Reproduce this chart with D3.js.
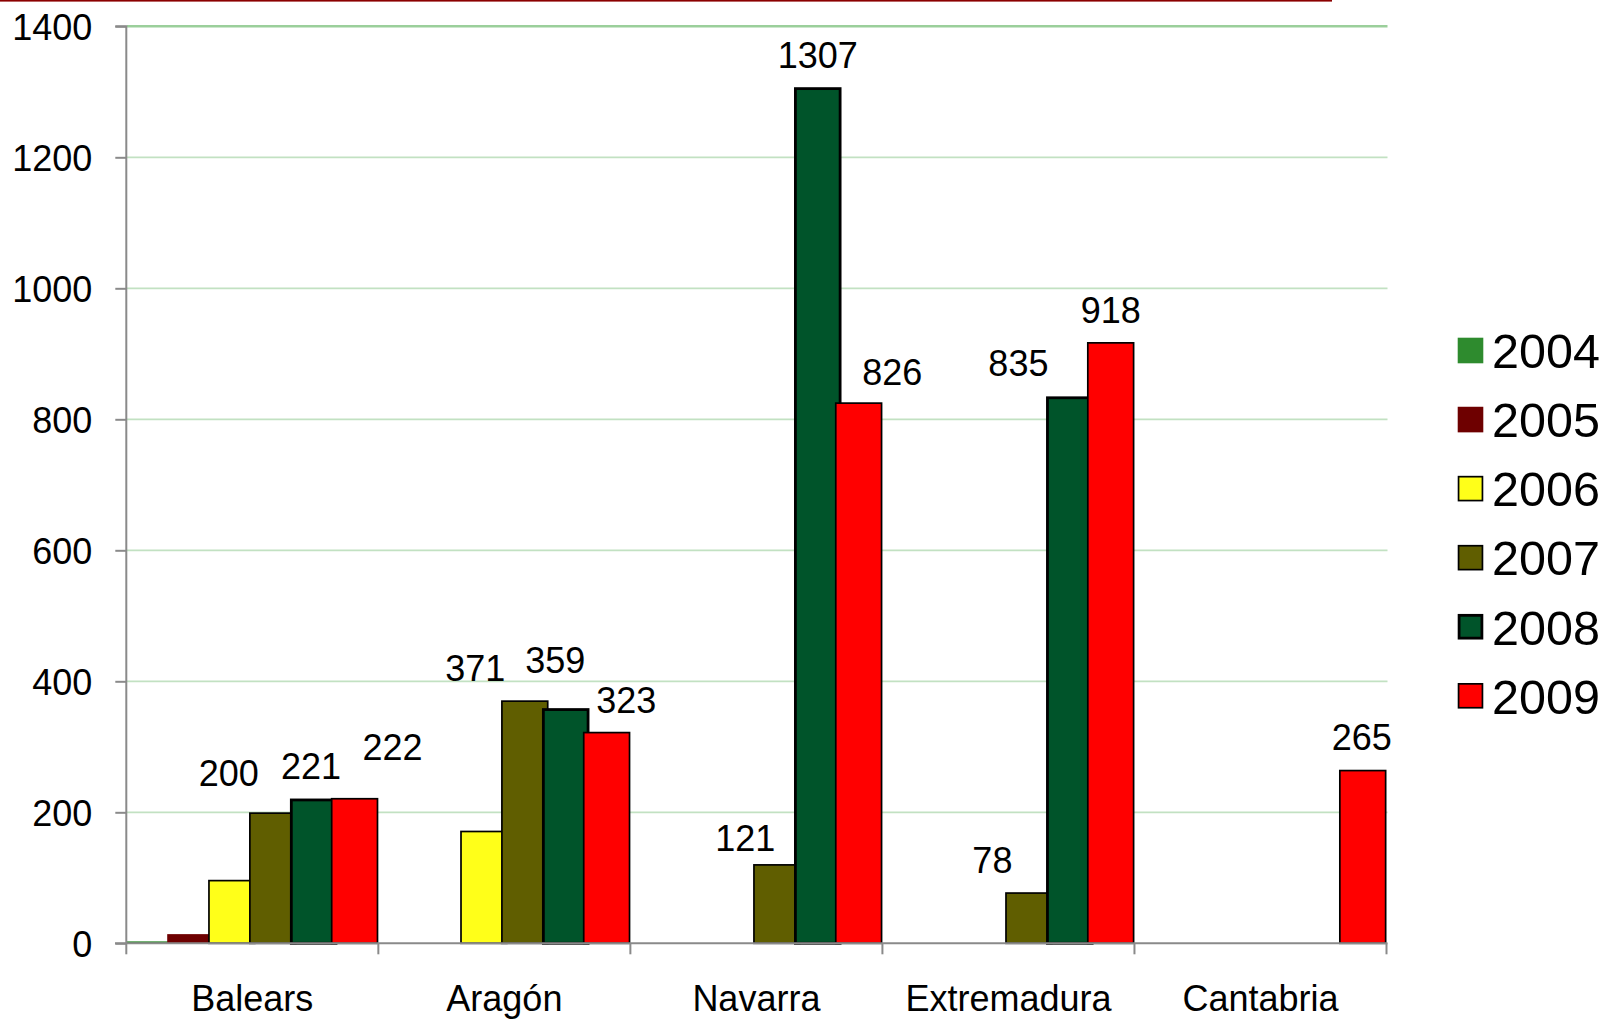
<!DOCTYPE html>
<html>
<head>
<meta charset="utf-8">
<script src="https://cdn.jsdelivr.net/npm/d3@7"></script>
<style>
  html, body { margin: 0; padding: 0; background: #fff; }
  svg { display: block; }
  text { font-family: "Liberation Sans", Arial, sans-serif; fill: #000; }
</style>
</head>
<body>
<svg id="chart" width="1612" height="1019"></svg>
<script>
// ---- data ----
const categories = ["Balears", "Aragón", "Navarra", "Extremadura", "Cantabria"];
const years = ["2004", "2005", "2006", "2007", "2008", "2009"];
const v2004 = [3, 0, 0, 0, 0];
const v2005 = [14, 0, 0, 0, 0];
const v2006 = [97, 172, 0, 0, 0];
const v2007 = [200, 371, 121, 78, 0];
const v2008 = [221, 359, 1307, 835, 0];
const v2009 = [222, 323, 826, 918, 265];
const yTicks = [0, 200, 400, 600, 800, 1000, 1200, 1400];
const labelledYears = ["2007", "2008", "2009"];

// ---- styles / layout ----
const colors = ["#2e8b2e", "#6e0000", "#ffff19", "#605e00", "#00542a", "#ff0000"];
const strokeW = [0, 0, 1.7, 1.7, 2.8, 1.7];
// manual data-label placement (dx from bar centre, dy from bar top to text centre)
const labelNudge = {
  "2007|Balears": [-44, -39.4], "2008|Balears": [-2.6, -32.4], "2009|Balears": [38, -50.7],
  "2007|Aragón": [-49.5, -32.5], "2008|Aragón": [-10.4, -47.9], "2009|Aragón": [19.7, -32],
  "2007|Navarra": [-31.5, -26], "2008|Navarra": [0, -32.6], "2009|Navarra": [33.7, -29.7],
  "2007|Extremadura": [-36.5, -32.5], "2008|Extremadura": [-51.4, -32.8], "2009|Extremadura": [0, -32],
  "2009|Cantabria": [-1, -32.8]
};

const series = [v2004, v2005, v2006, v2007, v2008, v2009];
const svg = d3.select("#chart");

const x = d3.scaleBand().domain(categories).range([126.3, 1386.5]).padding(0);
const y = d3.scaleLinear().domain([0, 1400]).range([943.3, 26.3]);

const overlap = 0.139;
const bw = x.bandwidth();
const barW = bw / (1 + (years.length - 1) * (1 - overlap));
const step = barW * (1 - overlap);

// top decorative line
svg.append("rect").attr("x", 0).attr("y", 0).attr("width", 1332).attr("height", 1.6).attr("fill", "#8b0000");

// gridlines
svg.append("g").selectAll("line").data(yTicks.filter(t => t > 0)).join("line")
  .attr("x1", 127).attr("x2", 1387.5)
  .attr("y1", d => y(d)).attr("y2", d => y(d))
  .attr("stroke", d => d === 1400 ? "#9bcf9b" : "#c2e1c2")
  .attr("stroke-width", d => d === 1400 ? 2.6 : 1.7);

// bars
const barsG = svg.append("g");
categories.forEach((cat, ci) => {
  series.forEach((vals, si) => {
    const v = vals[ci];
    if (!v) return;
    const bx = x(cat) + si * step;
    const sw = strokeW[si];
    barsG.append("rect")
      .attr("x", bx + sw / 2)
      .attr("y", y(v) + sw / 2)
      .attr("width", barW - sw)
      .attr("height", Math.max(0, y(0) - y(v) - sw / 2))
      .attr("fill", colors[si])
      .attr("stroke", sw ? "#000" : "none")
      .attr("stroke-width", sw);
  });
});

// axes
const axisColor = "#8a8a8a";
const yAxis = d3.axisLeft(y).tickValues(yTicks).tickSize(11).tickPadding(23).tickFormat(d3.format("d"));
const gy = svg.append("g").attr("transform", "translate(126.3,0)").call(yAxis);
gy.select(".domain").attr("stroke", axisColor).attr("stroke-width", 2).attr("d", "M-11,26.3H0V943.3");
gy.selectAll(".tick line").attr("stroke", axisColor).attr("stroke-width", 2);
gy.selectAll(".tick text").attr("font-size", 36).attr("font-family", "Liberation Sans, Arial, sans-serif").attr("fill", "#000").attr("dy", "0.36em");

// x axis line and boundary ticks
const gx = svg.append("g");
gx.append("line").attr("x1", 115).attr("x2", 1387.5).attr("y1", y(0)).attr("y2", y(0))
  .attr("stroke", axisColor).attr("stroke-width", 2);
const bounds = categories.map(c => x(c)).concat([x(categories[categories.length - 1]) + bw]);
gx.selectAll("line.tk").data(bounds).join("line").attr("class", "tk")
  .attr("x1", d => d).attr("x2", d => d).attr("y1", y(0)).attr("y2", y(0) + 11)
  .attr("stroke", axisColor).attr("stroke-width", 2);
gx.selectAll("text").data(categories).join("text")
  .attr("x", d => x(d) + bw / 2).attr("y", 1011)
  .attr("text-anchor", "middle").attr("font-size", 36).text(d => d);

// data labels
const labG = svg.append("g");
categories.forEach((cat, ci) => {
  series.forEach((vals, si) => {
    const v = vals[ci];
    if (!v || !labelledYears.includes(years[si])) return;
    const nudge = labelNudge[years[si] + "|" + cat] || [0, -32.5];
    const cx = x(cat) + si * step + barW / 2 + nudge[0];
    const cy = y(v) + nudge[1];
    labG.append("text").attr("x", cx).attr("y", cy + 12.9)
      .attr("text-anchor", "middle").attr("font-size", 36).text(v);
  });
});

// legend
const leg = svg.append("g");
years.forEach((yr, i) => {
  const cy = 350.5 + i * 69.06;
  const sw = strokeW[i];
  leg.append("rect")
    .attr("x", 1457.7 + sw / 2).attr("y", cy - 12.8 + sw / 2)
    .attr("width", 25.6 - sw).attr("height", 25.6 - sw)
    .attr("fill", colors[i]).attr("stroke", sw ? "#000" : "none").attr("stroke-width", sw);
  leg.append("text").attr("x", 1492).attr("y", cy + 17.8)
    .attr("font-size", 48.5).text(yr);
});
</script>
</body>
</html>
